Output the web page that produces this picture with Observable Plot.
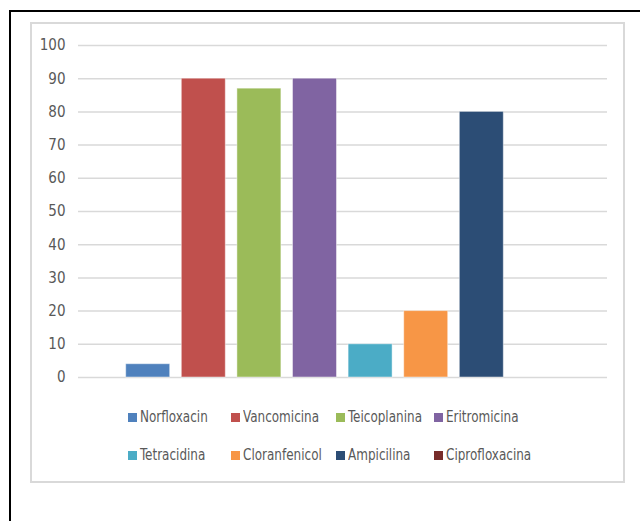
<!DOCTYPE html>
<html>
<head>
<meta charset="utf-8">
<script src="https://cdn.jsdelivr.net/npm/d3@7"></script>
<script src="https://cdn.jsdelivr.net/npm/@observablehq/plot@0.6"></script>
<style>
  html, body { margin: 0; padding: 0; background: #fff; overflow: hidden; }
  #wrap { position: relative; width: 640px; height: 521px; overflow: hidden; }
  #chart { position: absolute; left: 0; top: 0; }
  .outer { position: absolute; left: 9px; top: 10px; width: 700px; height: 600px; border: 2px solid #000; box-sizing: border-box; pointer-events: none; z-index: 5; }
  .inner { position: absolute; left: 30px; top: 22px; width: 595px; height: 461px; border: 2px solid #d9d9d9; box-sizing: border-box; pointer-events: none; z-index: 5; }
  #legend { position: absolute; left: 0; top: 0; width: 640px; height: 521px; pointer-events: none; }
  .item { position: absolute; display: flex; align-items: center; font-family: "Liberation Sans Narrow", "DejaVu Sans Condensed", "Liberation Sans", sans-serif; font-size: 15px; color: #595959; white-space: nowrap; transform: translateY(-50%); }
  .sw { width: 9px; height: 9px; margin-right: 3px; flex: none; }
  .tx { display: inline-block; transform: scaleX(0.89); transform-origin: left center; }
</style>
</head>
<body>
<div id="wrap">
  <div id="chart"></div>
  <div id="legend"></div>
  <div class="outer"></div>
  <div class="inner"></div>
</div>
<script>
const antibiotics = ["Norfloxacin", "Vancomicina", "Teicoplanina", "Eritromicina", "Tetracidina", "Cloranfenicol", "Ampicilina", "Ciprofloxacina"];
const values = [4, 90, 87, 90, 10, 20, 80, 0];
const colors = ["#4f81bd", "#c0504d", "#9bbb59", "#8064a2", "#4bacc6", "#f79646", "#2c4d75", "#772c2a"];
const yTicks = [0, 10, 20, 30, 40, 50, 60, 70, 80, 90, 100];

const data = antibiotics.map((name, i) => ({name, value: values[i]}));

const plot = Plot.plot({
  width: 640,
  height: 395,
  marginTop: 45,
  marginBottom: 18,
  marginLeft: 78,
  marginRight: 33,
  style: {background: "transparent", fontFamily: "'Liberation Sans Narrow', 'DejaVu Sans Condensed', sans-serif", fontSize: "15px", color: "#595959"},
  x: {domain: antibiotics, range: [125.7, 558.9], paddingInner: 0.209, paddingOuter: 0, round: false, axis: null},
  y: {domain: [0, 100], ticks: yTicks, tickSize: 0, tickPadding: 13, label: null},
  color: {domain: antibiotics, range: colors},
  marks: [
    Plot.ruleY(yTicks, {stroke: "#d9d9d9", strokeWidth: 1.5, strokeOpacity: 1}),
    Plot.barY(data, {x: "name", y: "value", fill: "name", stroke: "#ffffff", strokeOpacity: 0.45, strokeWidth: 1}),
    Plot.axisY({ticks: yTicks, tickSize: 0, tickPadding: 13, label: null, fill: "#595959"})
  ]
});
document.getElementById("chart").appendChild(plot);

// Legend (HTML, below the plotting area)
const legendX = [128, 231, 336, 434];
const legendY = [417, 455];
const legend = document.getElementById("legend");
antibiotics.forEach((name, i) => {
  const it = document.createElement("div");
  it.className = "item";
  it.style.left = legendX[i % 4] + "px";
  it.style.top = legendY[Math.floor(i / 4)] + "px";
  const sw = document.createElement("span");
  sw.className = "sw";
  sw.style.background = colors[i];
  const tx = document.createElement("span");
  tx.className = "tx";
  tx.textContent = name;
  it.appendChild(sw);
  it.appendChild(tx);
  legend.appendChild(it);
});
</script>
</body>
</html>
